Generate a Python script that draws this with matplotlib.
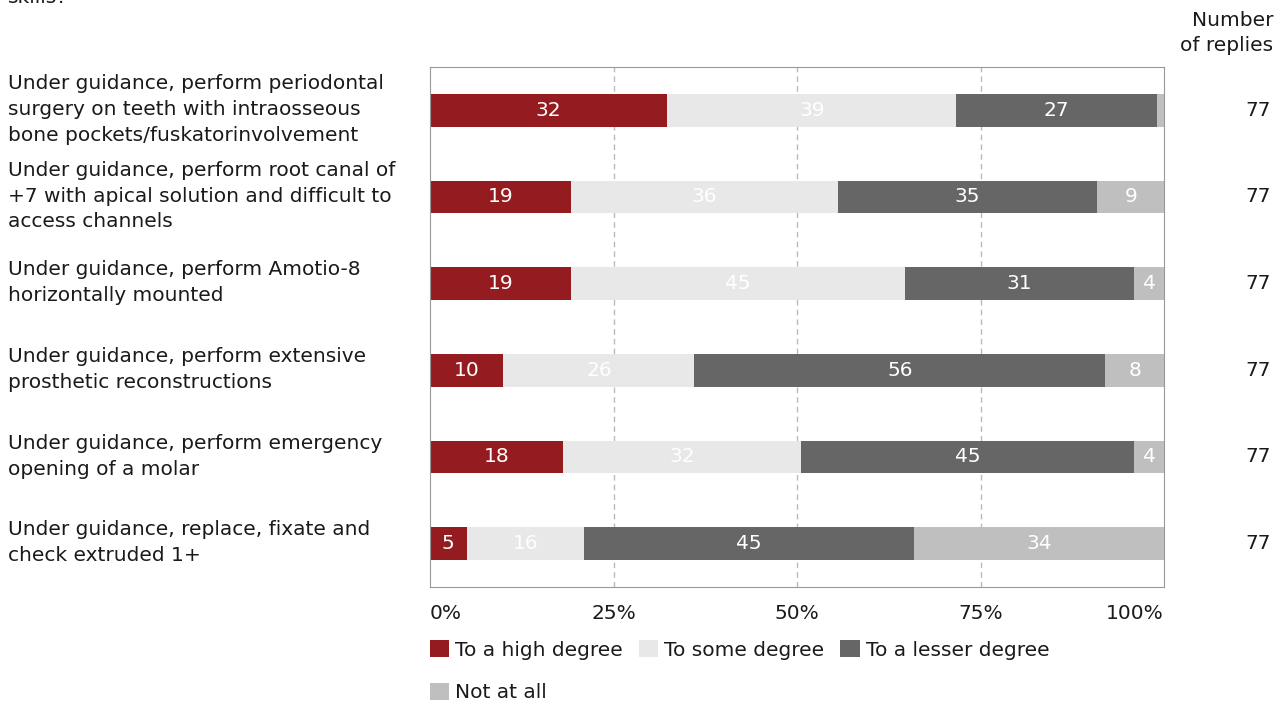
import matplotlib.pyplot as plt
import matplotlib.transforms as mtransforms
import numpy as np

# data (percent of replies)
questions = [
    'Under guidance, perform periodontal\nsurgery on teeth with intraosseous\nbone pockets/fuskatorinvolvement',
    'Under guidance, perform root canal of\n+7 with apical solution and difficult to\naccess channels',
    'Under guidance, perform Amotio-8\nhorizontally mounted',
    'Under guidance, perform extensive\nprosthetic reconstructions',
    'Under guidance, perform emergency\nopening of a molar',
    'Under guidance, replace, fixate and\ncheck extruded 1+',
]
high = [32, 19, 19, 10, 18, 5]
some = [39, 36, 45, 26, 32, 16]
lesser = [27, 35, 31, 56, 45, 45]
not_at_all = [1, 9, 4, 8, 4, 34]
replies = [77, 77, 77, 77, 77, 77]

series = ['To a high degree', 'To some degree', 'To a lesser degree', 'Not at all']
colors = ['#941C20', '#E8E8E8', '#666666', '#BFBFBF']

plt.rcParams['font.family'] = ['DejaVu Sans']
fs = 14.5
tc = '#1a1a1a'

fig = plt.figure(figsize=(12.87, 7.04), dpi=100)
ax = fig.add_axes([430 / 1287, 1 - 587 / 704, 734 / 1287, 520 / 704])

vals = np.array([high, some, lesser, not_at_all], dtype=float)
shares = vals / vals.sum(axis=0) * 100
y = np.arange(len(questions))
left = np.zeros(len(questions))
bars = []
for i in range(4):
    b = ax.barh(y, shares[i], left=left, height=0.38, color=colors[i],
                label=series[i], zorder=2)
    bars.append(b)
    for j in range(len(questions)):
        if vals[i, j] >= 3:
            ax.text(left[j] + shares[i, j] / 2, y[j], '%d' % vals[i, j],
                    ha='center', va='center', color='white', fontsize=fs, zorder=3)
    left += shares[i]

ax.set_xlim(0, 100)
ax.set_ylim(len(questions) - 0.5, -0.5)
ax.set_yticks([])
ax.set_xticks([0, 25, 50, 75, 100])
ax.set_xticklabels(['0%', '25%', '50%', '75%', '100%'], fontsize=fs, color=tc)
ax.get_xticklabels()[0].set_ha('left')
ax.get_xticklabels()[-1].set_ha('right')
ax.tick_params(axis='x', length=0, pad=12)
for x in [25, 50, 75]:
    ax.axvline(x, color='#BBBBBB', linestyle=(0, (4, 3)), linewidth=1, zorder=1)
for s in ax.spines.values():
    s.set_color('#999999')

# category labels on the left, number of replies on the right
lab_trans = mtransforms.blended_transform_factory(fig.transFigure, ax.transData)
for j, q in enumerate(questions):
    ax.text(8 / 1287, y[j] - 0.01, q, transform=lab_trans, ha='left', va='center',
            fontsize=fs, linespacing=1.45, color=tc)
    ax.text(1271 / 1287, y[j], str(replies[j]), transform=lab_trans,
            ha='right', va='center', fontsize=fs, color=tc)

fig.text(1273 / 1287, 1 - 33 / 704, 'Number\nof replies', ha='right', va='center',
         fontsize=fs, linespacing=1.4, color=tc)
fig.text(8 / 1287, 1 - 3 / 704, 'skills?', ha='left', va='baseline',
         fontsize=fs, color=tc)

# legend: first column holds high + not at all so rows read left to right
h = [bars[0], bars[3], bars[1], bars[2]]
l = [series[0], series[3], series[1], series[2]]
leg = fig.legend(h, l, ncol=3, loc='upper left', bbox_to_anchor=(430 / 1287, 1 - 640 / 704),
                 frameon=False, fontsize=fs, handlelength=0.95, handleheight=0.95,
                 handletextpad=0.3, columnspacing=0.8, labelspacing=1.15,
                 borderpad=0, borderaxespad=0)
for t in leg.get_texts():
    t.set_color(tc)

fig.savefig('out.png', dpi=100)
